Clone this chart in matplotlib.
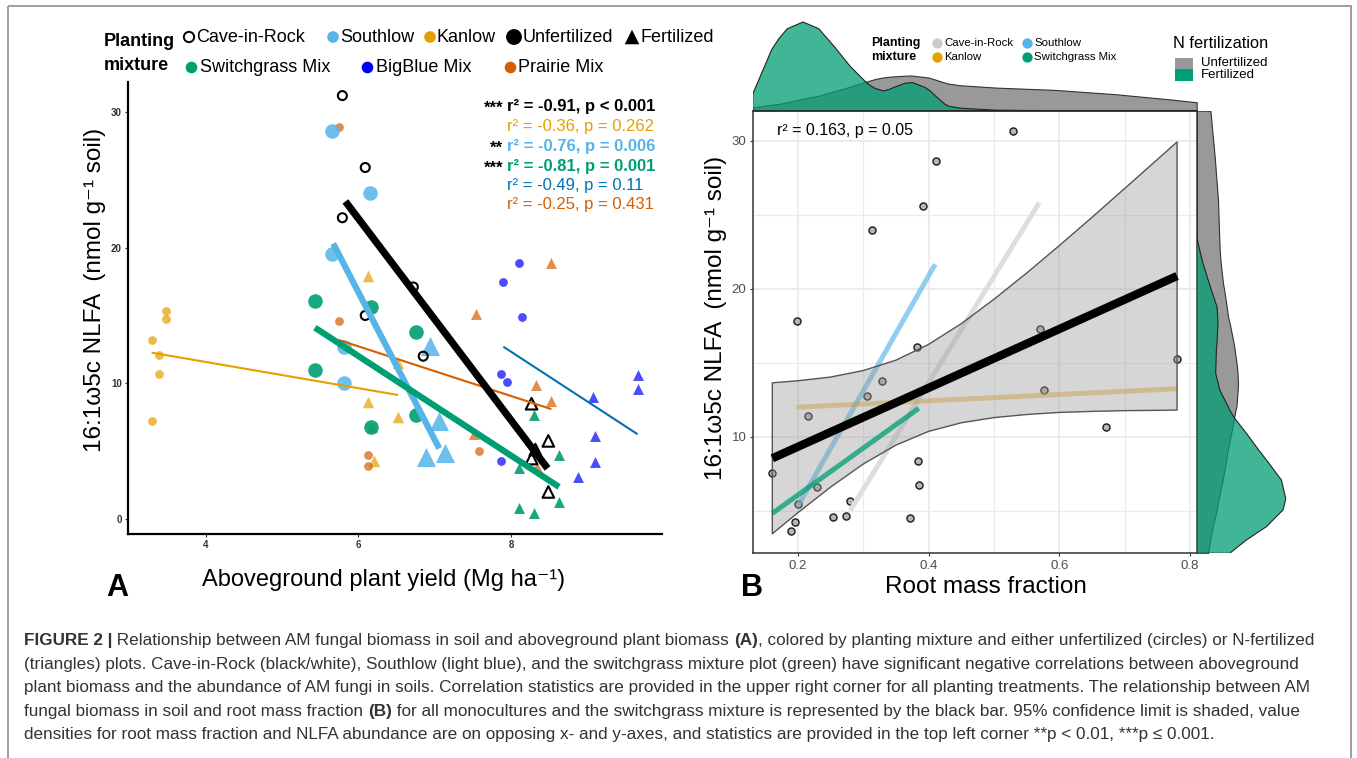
import matplotlib
matplotlib.use('Agg')
import matplotlib.pyplot as plt
from matplotlib.patches import Rectangle

plt.rcParams['font.family'] = ['Liberation Sans', 'DejaVu Sans']

# ---------------- data : panel A (aboveground yield vs NLFA) ----------------
cave_u_x = [5.79, 6.09, 5.79, 6.09, 6.72, 6.85]
cave_u_y = [31.2, 25.9, 22.2, 15.0, 17.1, 12.0]
cave_f_x = [8.27, 8.49, 8.32, 8.27, 8.49]
cave_f_y = [8.5, 5.76, 5.12, 4.46, 2.0]
south_u_x = [5.66, 6.15, 5.66, 5.81, 5.81]
south_u_y = [28.6, 24.0, 19.5, 12.7, 10.0]
south_f_x = [6.94, 7.06, 6.88, 7.14]
south_f_y = [12.75, 7.2, 4.6, 4.9]
kanlow_u_x = [3.29, 3.48, 3.48, 3.38, 3.38, 3.29]
kanlow_u_y = [13.2, 15.3, 14.75, 12.1, 10.7, 7.2]
kanlow_f_x = [6.12, 6.12, 6.21, 6.52, 6.52, 6.18]
kanlow_f_y = [17.9, 8.6, 4.26, 7.5, 11.5, 6.8]
switch_u_x = [5.43, 6.17, 5.43, 6.17, 6.76, 6.75]
switch_u_y = [16.05, 15.6, 11.0, 6.8, 13.8, 7.65]
switch_f_x = [8.3, 8.63, 8.1, 8.63, 8.1, 8.3]
switch_f_y = [7.7, 4.7, 3.73, 1.27, 0.78, 0.46]
bigblue_u_x = [8.1, 7.9, 8.15, 7.87, 7.95, 7.87]
bigblue_u_y = [18.9, 17.5, 14.9, 10.7, 10.1, 4.3]
bigblue_f_x = [9.66, 9.66, 9.08, 9.1, 9.1, 8.88]
bigblue_f_y = [10.6, 9.6, 9.0, 6.1, 4.17, 3.1]
prairie_u_x = [5.74, 5.74, 6.12, 6.12, 7.58]
prairie_u_y = [28.9, 14.6, 4.75, 3.9, 5.0]
prairie_f_x = [8.53, 7.54, 8.33, 8.53, 7.52, 8.34]
prairie_f_y = [18.9, 15.1, 9.85, 8.7, 6.3, 3.85]

# fitted lines (end points)
cave_fit_x, cave_fit_y = [5.83, 8.48], [23.4, 3.73]
south_fit_x, south_fit_y = [5.67, 7.06], [20.3, 5.2]
kanlow_fit_x, kanlow_fit_y = [3.29, 6.52], [12.26, 9.14]
switch_fit_x, switch_fit_y = [5.43, 8.63], [14.1, 2.37]
bigblue_fit_x, bigblue_fit_y = [7.9, 9.66], [12.7, 6.25]
prairie_fit_x, prairie_fit_y = [5.74, 8.53], [13.2, 8.1]

stats_stars = ['***', '', '**', '***', '', '']
stats_text = ['r² = -0.91, p < 0.001', 'r² = -0.36, p = 0.262', 'r² = -0.76, p = 0.006',
              'r² = -0.81, p = 0.001', 'r² = -0.49, p = 0.11', 'r² = -0.25, p = 0.431']

# ---------------- data : panel B (root mass fraction vs NLFA) ----------------
rmf = [0.529, 0.411, 0.392, 0.313, 0.198, 0.570, 0.383, 0.780, 0.328, 0.306, 0.577, 0.215,
       0.671, 0.161, 0.384, 0.385, 0.230, 0.280, 0.2005, 0.254, 0.274, 0.372, 0.195, 0.189]
nlfa = [30.68, 28.6, 25.6, 24.0, 17.8, 17.26, 16.04, 15.27, 13.76, 12.75, 13.16, 11.4,
        10.65, 7.53, 8.36, 6.72, 6.62, 5.63, 5.45, 4.6, 4.64, 4.49, 4.26, 3.63]

b_all_x, b_all_y = [0.161, 0.78], [8.54, 20.86]
band_x = [0.161, 0.2, 0.25, 0.3, 0.35, 0.4, 0.45, 0.5, 0.55, 0.6, 0.65, 0.7, 0.75, 0.78]
band_lo = [3.44, 4.86, 6.59, 8.15, 9.43, 10.36, 10.94, 11.29, 11.5, 11.64, 11.71, 11.76, 11.78, 11.8]
band_hi = [13.64, 13.78, 14.03, 14.47, 15.17, 16.24, 17.64, 19.29, 21.06, 22.92, 24.83, 26.78, 28.74, 29.92]
b_cave_x, b_cave_y = [0.28, 0.569], [5.0, 25.8]
b_south_x, b_south_y = [0.201, 0.41], [5.39, 21.65]
b_kanlow_x, b_kanlow_y = [0.198, 0.78], [11.99, 13.24]
b_switch_x, b_switch_y = [0.161, 0.385], [4.82, 11.92]

# marginal densities (relative heights)
top_x = [0.131, 0.160, 0.171, 0.184, 0.208, 0.232, 0.256, 0.280, 0.304, 0.311, 0.319, 0.331,
         0.341, 0.346, 0.364, 0.370, 0.376, 0.395, 0.401, 0.413, 0.425, 0.431, 0.449, 0.503,
         0.593, 0.684, 0.774, 0.810]
top_unf = [3.4, 6.0, 6.7, 8.5, 12.0, 15.0, 19.5, 24.0, 29.0, 30.3, 31.8, 33.3,
           34.0, 34.3, 35.0, 35.2, 35.0, 33.6, 33.0, 30.5, 28.0, 27.0, 25.4, 23.1,
           20.8, 16.6, 11.0, 8.4]
top_fer = [16.6, 61.0, 72.0, 82.0, 88.7, 82.0, 64.0, 44.4, 28.7, 25.0, 22.1, 19.8,
           21.5, 23.1, 27.4, 27.8, 28.0, 23.1, 20.5, 13.3, 6.5, 4.4, 2.5, 0.5,
           0.0, 0.0, 0.0, 0.0]
right_y = [32.03, 28.92, 25.99, 23.51, 22.61, 21.72, 20.36, 19.91, 18.78, 18.11, 17.66,
           16.31, 15.86, 14.73, 14.28, 13.61, 13.16, 12.03, 11.80, 11.24, 10.23, 9.10,
           8.43, 7.07, 5.84, 5.72, 5.05, 3.92, 3.02, 2.12]
right_unf = [13.7, 18.0, 21.3, 22.5, 23.0, 24.0, 26.3, 27.5, 30.0, 31.3, 33.0,
             37.0, 38.0, 40.3, 40.8, 41.3, 41.0, 39.7, 38.8, 37.3, 34.5, 31.0,
             29.5, 26.0, 22.0, 21.6, 20.0, 16.0, 13.5, 11.3]
right_fer = [0.0, 0.0, 0.0, 0.0, 3.0, 6.3, 12.5, 14.7, 20.3, 21.0, 21.3,
             20.3, 19.7, 19.2, 19.0, 21.5, 23.0, 31.5, 33.0, 38.0, 49.7, 62.0,
             69.7, 84.7, 89.0, 88.8, 86.3, 69.7, 49.7, 33.0]

caption_lines = [
    [('FIGURE 2 |', 'bold'), (' Relationship between AM fungal biomass in soil and aboveground plant biomass ', 'normal'),
     ('(A)', 'bold'), (', colored by planting mixture and either unfertilized (circles) or N-fertilized', 'normal')],
    [('(triangles) plots. Cave-in-Rock (black/white), Southlow (light blue), and the switchgrass mixture plot (green) have significant negative correlations between aboveground', 'normal')],
    [('plant biomass and the abundance of AM fungi in soils. Correlation statistics are provided in the upper right corner for all planting treatments. The relationship between AM', 'normal')],
    [('fungal biomass in soil and root mass fraction ', 'normal'), ('(B)', 'bold'),
     (' for all monocultures and the switchgrass mixture is represented by the black bar. 95% confidence limit is shaded, value', 'normal')],
    [('densities for root mass fraction and NLFA abundance are on opposing x- and y-axes, and statistics are provided in the top left corner **p < 0.01, ***p ≤ 0.001.', 'normal')],
]

# ---------------- colours ----------------
C_CAVE, C_SOUTH, C_KAN, C_SW, C_BB, C_PR, C_BBLINE = ('black', '#56B4E9', '#E69F00', '#009E73',
                                                       '#0000FF', '#D55E00', '#0072B2')

W, H = 1357, 758
fig = plt.figure(figsize=(W / 100, H / 100), dpi=100)


def px_axes(x0, y0, x1, y1):
    return fig.add_axes([x0 / W, 1 - y1 / H, (x1 - x0) / W, (y1 - y0) / H])


# ======================= Panel A =======================
axA = px_axes(128, 82, 662, 534)
axA.set_xlim(2.98, 9.98)
axA.set_ylim(-1.1, 32.2)
for s in ['top', 'right']:
    axA.spines[s].set_visible(False)
for s in ['left', 'bottom']:
    axA.spines[s].set_linewidth(1.6)
axA.set_xticks([4, 6, 8])
axA.set_yticks([0, 10, 20, 30])
axA.tick_params(labelsize=7, length=2.5, width=0.8, colors='#333333', pad=2)
for lab in axA.get_xticklabels() + axA.get_yticklabels():
    lab.set_fontweight('bold')

axA.scatter(kanlow_u_x, kanlow_u_y, s=40, color=C_KAN, alpha=0.7, lw=0, zorder=2)
axA.scatter(kanlow_f_x, kanlow_f_y, s=70, marker='^', color=C_KAN, alpha=0.7, lw=0, zorder=2)
axA.scatter(prairie_u_x, prairie_u_y, s=40, color=C_PR, alpha=0.7, lw=0, zorder=2)
axA.scatter(prairie_f_x, prairie_f_y, s=62, marker='^', color=C_PR, alpha=0.7, lw=0, zorder=2)
axA.scatter(bigblue_u_x, bigblue_u_y, s=40, color=C_BB, alpha=0.7, lw=0, zorder=2)
axA.scatter(bigblue_f_x, bigblue_f_y, s=62, marker='^', color=C_BB, alpha=0.7, lw=0, zorder=2)
axA.scatter(south_u_x, south_u_y, s=110, color=C_SOUTH, alpha=0.85, lw=0, zorder=2)
axA.scatter(south_f_x, south_f_y, s=190, marker='^', color=C_SOUTH, alpha=0.85, lw=0, zorder=2)
axA.scatter(switch_u_x, switch_u_y, s=110, color=C_SW, alpha=0.9, lw=0, zorder=2)
axA.scatter(switch_f_x, switch_f_y, s=62, marker='^', color=C_SW, alpha=0.9, lw=0, zorder=2)
axA.scatter(cave_u_x, cave_u_y, s=42, facecolor='none', edgecolor=C_CAVE, lw=1.5, zorder=2)
axA.scatter(cave_f_x, cave_f_y, s=70, marker='^', facecolor='none', edgecolor=C_CAVE, lw=1.5, zorder=2)

axA.plot(kanlow_fit_x, kanlow_fit_y, color=C_KAN, lw=1.5, zorder=3, solid_capstyle='butt')
axA.plot(prairie_fit_x, prairie_fit_y, color=C_PR, lw=1.5, zorder=3, solid_capstyle='butt')
axA.plot(bigblue_fit_x, bigblue_fit_y, color=C_BBLINE, lw=1.5, zorder=3, solid_capstyle='butt')
axA.plot(south_fit_x, south_fit_y, color=C_SOUTH, lw=4.5, zorder=4, solid_capstyle='butt')
axA.plot(switch_fit_x, switch_fit_y, color=C_SW, lw=4.5, zorder=5, solid_capstyle='butt')
axA.plot(cave_fit_x, cave_fit_y, color=C_CAVE, lw=5.2, zorder=6, solid_capstyle='butt')

# ======================= Panel B =======================
BX0, BY0, BX1, BY1 = 752.7, 110.7, 1196.7, 553.3
axB = px_axes(BX0, BY0, BX1, BY1)
xlimB, ylimB = (0.131, 0.81), (2.12, 32.03)
axB.set_xlim(*xlimB)
axB.set_ylim(*ylimB)
axB.set_xticks([0.2, 0.4, 0.6, 0.8])
axB.set_xticklabels(['0.2', '0.4', '0.6', '0.8'])
axB.set_xticks([0.3, 0.5, 0.7], minor=True)
axB.set_yticks([10, 20, 30])
axB.set_yticks([5, 15, 25], minor=True)
axB.grid(which='major', color='#EBEBEB', lw=1.3)
axB.grid(which='minor', color='#EBEBEB', lw=0.8)
axB.set_axisbelow(True)
axB.tick_params(which='major', labelsize=9.5, length=2.5, width=0.8, color='#333333',
                labelcolor='#4D4D4D', pad=2)
axB.tick_params(which='minor', length=0)
for s in axB.spines.values():
    s.set_color('#333333')
    s.set_linewidth(1.1)

axB.scatter(rmf, nlfa, s=26, facecolor='#B5B5B5', edgecolor='#1a1a1a', lw=1.0, zorder=2)
axB.plot(b_cave_x, b_cave_y, color='#DEDEDE', lw=3.6, zorder=3, solid_capstyle='butt')
axB.plot(b_south_x, b_south_y, color=C_SOUTH, alpha=0.65, lw=3.6, zorder=3, solid_capstyle='butt')
axB.plot(b_kanlow_x, b_kanlow_y, color=C_KAN, alpha=0.45, lw=3.6, zorder=3, solid_capstyle='butt')
axB.fill_between(band_x, band_lo, band_hi, facecolor='#999999', alpha=0.4, lw=0, zorder=4)
axB.fill_between(band_x, band_lo, band_hi, facecolor='none', edgecolor='#555555', lw=1.0, zorder=4)
axB.plot(b_switch_x, b_switch_y, color=C_SW, alpha=0.75, lw=3.6, zorder=5, solid_capstyle='butt')
axB.plot(b_all_x, b_all_y, color='black', lw=6.0, zorder=6, solid_capstyle='butt')

# top marginal density
axT = px_axes(BX0, 10, BX1, BY0)
axT.set_xlim(*xlimB)
axT.set_ylim(0, BY0 - 10)
axT.axis('off')
axT.fill_between(top_x, 0, top_unf, facecolor='#999999', edgecolor='#333333', lw=0.8)
axT.fill_between(top_x, 0, top_fer, facecolor=C_SW, alpha=0.75, lw=0)
axT.fill_between(top_x, 0, top_fer, facecolor='none', edgecolor='#222222', lw=0.8)

# right marginal density
axR = px_axes(BX1, BY0, 1300, BY1)
axR.set_ylim(*ylimB)
axR.set_xlim(0, 1300 - BX1)
axR.axis('off')
axR.fill_betweenx(right_y, 0, right_unf, facecolor='#999999', edgecolor='#333333', lw=0.8)
axR.fill_betweenx(right_y, 0, right_fer, facecolor=C_SW, alpha=0.75, lw=0)
axR.fill_betweenx(right_y, 0, right_fer, facecolor='none', edgecolor='#222222', lw=0.8)

# ======================= overlay (texts, legends) =======================
ov = px_axes(0, 0, W, H)
ov.set_xlim(0, W)
ov.set_ylim(H, 0)
ov.axis('off')

ov.add_patch(Rectangle((7.5, 6), 1343, 900, fill=False, ec='#9E9E9E', lw=1.4, clip_on=True))

# axis titles
ylab = '16:1ω5c NLFA  (nmol g⁻¹ soil)'
ov.text(95, 290, ylab, rotation=90, fontsize=17.5, ha='center', va='center')
ov.text(716, 318, ylab, rotation=90, fontsize=17.5, ha='center', va='center')
ov.text(384, 580, 'Aboveground plant yield (Mg ha⁻¹)', fontsize=17, ha='center', va='center')
ov.text(986, 587, 'Root mass fraction', fontsize=17.5, ha='center', va='center')
ov.text(117, 588, 'A', fontsize=22, weight='bold', ha='center', va='center')
ov.text(752, 588, 'B', fontsize=22, weight='bold', ha='center', va='center')

# panel A legend
ov.text(104, 42, 'Planting', fontsize=13, weight='bold', va='center')
ov.text(104, 65, 'mixture', fontsize=13, weight='bold', va='center')
legA1 = [(189, 'Cave-in-Rock', 'o', 'none', 'black', 55), (333, 'Southlow', 'o', C_SOUTH, 'none', 70),
         (430, 'Kanlow', 'o', C_KAN, 'none', 70), (514, 'Unfertilized', 'o', 'black', 'none', 130),
         (632, 'Fertilized', '^', 'black', 'none', 110)]
for x, t, m, fc, ec, sz in legA1:
    ov.scatter([x], [37], s=sz, marker=m, facecolor=fc, edgecolor=ec, lw=1.4)
    ov.text(x + (7 if sz < 100 else 9), 37, t, fontsize=13, va='center')
legA2 = [(190.5, 'Switchgrass Mix', C_SW), (366.7, 'BigBlue Mix', C_BB), (509.5, 'Prairie Mix', C_PR)]
for x, t, c in legA2:
    ov.scatter([x], [67], s=70, color=c, lw=0)
    ov.text(x + 9, 67, t, fontsize=13, va='center')

# panel A statistics
stat_cols = ['black', C_KAN, C_SOUTH, C_SW, C_BBLINE, C_PR]
stat_wts = ['bold', 'normal', 'bold', 'bold', 'normal', 'normal']
stat_ys = [106.7, 126.7, 146, 166, 185.3, 205]
for st, tx, c, wt, y in zip(stats_stars, stats_text, stat_cols, stat_wts, stat_ys):
    if st:
        ov.text(503, y + 2, st, fontsize=12, weight='bold', color='black', ha='right', va='center')
    ov.text(506.7, y, tx, fontsize=12, weight=wt, color=c, ha='left', va='center')

# panel B texts and legends
ov.text(777, 130.7, 'r² = 0.163, p = 0.05', fontsize=11.5, va='center')
ov.text(871, 42.7, 'Planting', fontsize=9, weight='bold', va='center')
ov.text(871, 57.3, 'mixture', fontsize=9, weight='bold', va='center')
legB = [(937, 42.7, 'Cave-in-Rock', '#CCCCCC'), (1027, 42.7, 'Southlow', C_SOUTH),
        (937, 57.3, 'Kanlow', C_KAN), (1027, 57.3, 'Switchgrass Mix', C_SW)]
for x, y, t, c in legB:
    ov.scatter([x], [y], s=55, color=c, lw=0)
    ov.text(x + 7, y, t, fontsize=8.2, va='center')
ov.text(1173, 43.3, 'N fertilization', fontsize=11.8, va='center')
ov.add_patch(Rectangle((1175, 58), 18, 11.3, facecolor='#999999', lw=0))
ov.add_patch(Rectangle((1175, 69.3), 18, 11.3, facecolor=C_SW, lw=0))
ov.text(1201, 63.3, 'Unfertilized', fontsize=9.5, va='center')
ov.text(1201, 75, 'Fertilized', fontsize=9.5, va='center')

# caption (font size fitted so that the first line spans the text block)
renderer = fig.canvas.get_renderer()
cap_left, cap_right = 24, 1318
probe_w = 0
for txt, wt in caption_lines[0]:
    t = ov.text(0, 0, txt, fontsize=10, weight=wt)
    probe_w += t.get_window_extent(renderer).width
    t.remove()
cap_fs = 10 * (cap_right - cap_left) / probe_w
cap_y0, cap_dy = 645, 23.6
for i, segs in enumerate(caption_lines):
    x = cap_left
    y = cap_y0 + i * cap_dy
    for txt, wt in segs:
        t = ov.text(x, y, txt, fontsize=cap_fs, weight=wt, color='#333333', ha='left', va='baseline')
        x += t.get_window_extent(renderer).width

fig.savefig('out.png', dpi=100)
